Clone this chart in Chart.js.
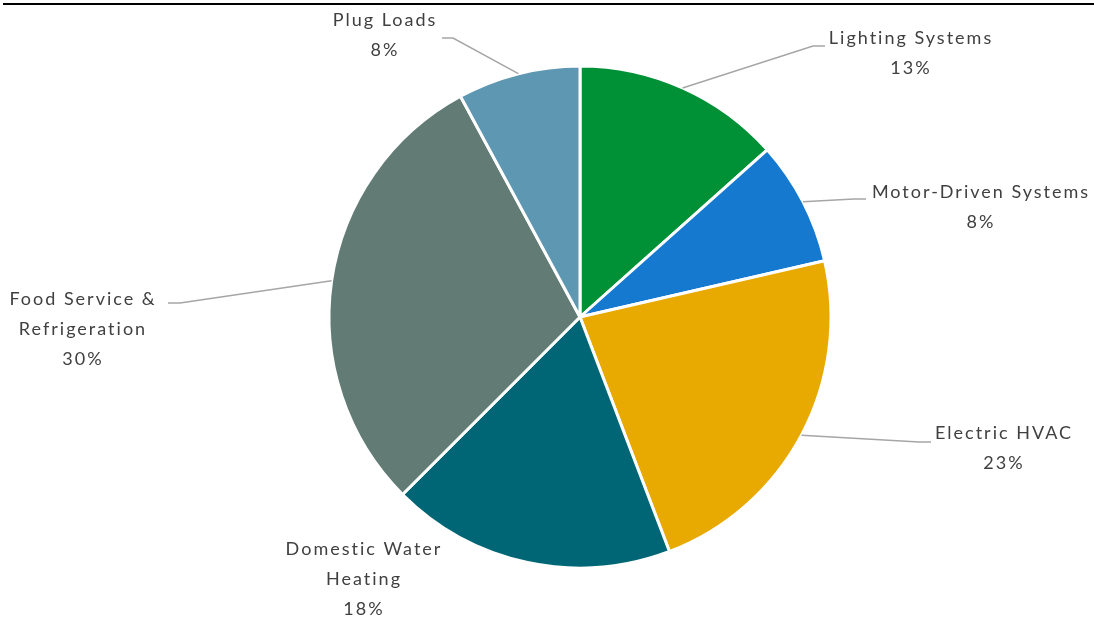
<!DOCTYPE html>
<html>
<head>
<meta charset="utf-8">
<script src="https://cdn.jsdelivr.net/npm/chart.js@4/dist/chart.umd.min.js"></script>
<style>
html,body{margin:0;padding:0;background:#fff;}
#wrap{position:relative;width:1094px;height:617px;}
</style>
</head>
<body>
<div id="wrap"><canvas id="c"></canvas></div>
<script>
// ---- data ----
const categories = [
  ['Lighting Systems'],
  ['Motor-Driven Systems'],
  ['Electric HVAC'],
  ['Domestic Water', 'Heating'],
  ['Food Service &', 'Refrigeration'],
  ['Plug Loads']
];
const shares = [13.4, 8.0, 22.8, 18.3, 29.6, 7.9];
const colors = ['#009036', '#1479CF', '#E8A900', '#006675', '#627C75', '#5E97B2'];

// label layout (offsets from pie centre, px) and leader end/elbow offsets
const labelLayout = [
  {cx: 330, cy: -264, end: [245, -271], elbow: [233, -271], lead: true},
  {cx: 400, cy: -110, end: [286, -118], elbow: [274, -118], lead: true},
  {cx: 423, cy: 131, end: [351, 125], elbow: [339, 125], lead: true},
  {cx: -217, cy: 262, lead: false},
  {cx: -498, cy: 12, end: [-412, -14], elbow: [-400, -14], lead: true},
  {cx: -196, cy: -282, end: [-138, -279], elbow: [-127, -279], lead: true}
];

const total = shares.reduce((a, b) => a + b, 0);
const FONT = '18px Lato, "Open Sans", sans-serif';
const LINE_H = 30;
const SPACING = 2;

const labelPlugin = {
  id: 'pieLabels',
  afterDatasetsDraw(chart) {
    const ctx = chart.ctx;
    const meta = chart.getDatasetMeta(0);
    ctx.save();
    meta.data.forEach((arc, i) => {
      const p = arc.getProps(['x', 'y', 'startAngle', 'endAngle', 'outerRadius'], true);
      const mid = (p.startAngle + p.endAngle) / 2;
      const L = labelLayout[i];
      if (L.lead) {
        const ax = p.x + Math.cos(mid) * p.outerRadius;
        const ay = p.y + Math.sin(mid) * p.outerRadius;
        ctx.strokeStyle = '#A6A6A6';
        ctx.lineWidth = 1.5;
        ctx.beginPath();
        ctx.moveTo(ax, ay);
        ctx.lineTo(p.x + L.elbow[0], p.y + L.elbow[1]);
        ctx.lineTo(p.x + L.end[0], p.y + L.end[1]);
        ctx.stroke();
      }
      const lines = categories[i].concat([Math.round(shares[i] / total * 100) + '%']);
      ctx.fillStyle = '#404040';
      ctx.font = FONT;
      ctx.letterSpacing = SPACING + 'px';
      ctx.textAlign = 'center';
      ctx.textBaseline = 'middle';
      const cx = p.x + L.cx + SPACING / 2, cy = p.y + L.cy;
      const y0 = cy - (lines.length - 1) * LINE_H / 2;
      lines.forEach((t, k) => ctx.fillText(t, cx, y0 + k * LINE_H));
    });
    ctx.restore();
  },
  beforeDraw(chart) {
    const ctx = chart.ctx;
    ctx.save();
    ctx.strokeStyle = '#000';
    ctx.lineWidth = 2;
    ctx.beginPath();
    ctx.moveTo(3, 4);
    ctx.lineTo(chart.width, 4);
    ctx.stroke();
    ctx.restore();
  }
};

new Chart(document.getElementById('c'), {
  type: 'pie',
  data: {
    labels: categories,
    datasets: [{
      data: shares,
      backgroundColor: colors,
      borderColor: '#ffffff',
      borderWidth: 3,
      radius: 251
    }]
  },
  options: {
    responsive: true,
    maintainAspectRatio: false,
    animation: false,
    layout: {padding: {top: 66, bottom: 49, left: 329, right: 263}},
    plugins: {legend: {display: false}, tooltip: {enabled: false}}
  },
  plugins: [labelPlugin]
});
</script>
</body>
</html>
